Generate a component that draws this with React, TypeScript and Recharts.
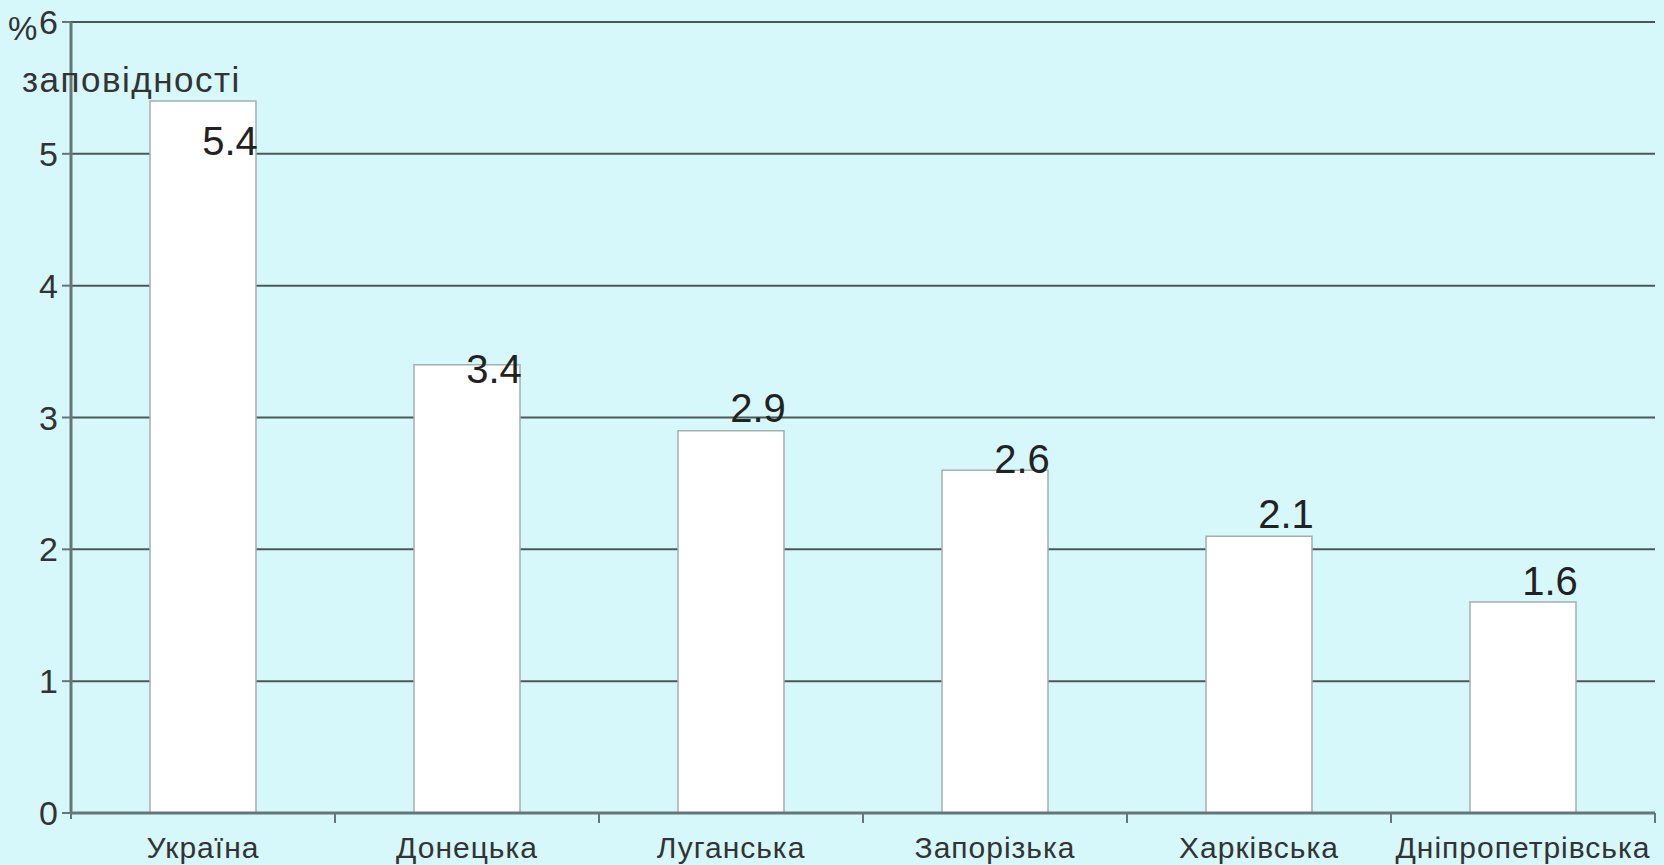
import React from 'react';
import { BarChart, Bar, XAxis, YAxis, CartesianGrid, LabelList } from 'recharts';

const categories = ['Україна', 'Донецька', 'Луганська', 'Запорізька', 'Харківська', 'Дніпропетрівська'];
const values = [5.4, 3.4, 2.9, 2.6, 2.1, 1.6];
const yTicks = [0, 1, 2, 3, 4, 5, 6];

const data = categories.map((name, i) => ({ name, value: values[i] }));

const FONT = '"Liberation Sans", Arial, sans-serif';
const BG = '#d6f8fb';
const GRID = '#4b5858';
const AXIS = '#667676';
const BAND = 264;
// per-bar vertical nudge of value labels (baseline relative to bar top)
const labelShift = [54, 18, -9, 3, -8, -7];

const XTick = (props: any) => {
  const { x, y, payload, index } = props;
  const half = BAND / 2;
  return (
    <g>
      {index === 0 && <line x1={x - half} x2={x - half} y1={y} y2={y + 6} stroke={AXIS} strokeWidth={2} />}
      <line x1={x + half} x2={x + half} y1={y} y2={y + 10} stroke={AXIS} strokeWidth={2} />
      <text x={x} y={y + 45} textAnchor="middle" fontSize={30} letterSpacing={1} fontFamily={FONT} fill="#333">
        {payload.value}
      </text>
    </g>
  );
};

const ValueLabel = (props: any) => {
  const { x, y, width, value, index } = props;
  return (
    <text x={x + width / 2 + 27} y={y + labelShift[index]} textAnchor="middle" fontSize={40} fontFamily={FONT} fill="#222">
      {value}
    </text>
  );
};

export default function App() {
  return (
    <div style={{ position: 'fixed', left: 0, top: 0, width: 1664, height: 865, background: BG }}>
      <BarChart
        width={1664}
        height={865}
        data={data}
        margin={{ top: 22, right: 9, bottom: 0, left: 11 }}
        barSize={106}
      >
        <CartesianGrid vertical={false} stroke={GRID} strokeWidth={2} />
        <XAxis
          dataKey="name"
          height={52}
          tickLine={false}
          tickSize={0}
          tickMargin={0}
          axisLine={{ stroke: AXIS, strokeWidth: 3 }}
          tick={<XTick />}
          interval={0}
        />
        <YAxis
          width={60}
          domain={[0, 6]}
          ticks={yTicks}
          interval={0}
          tickSize={9}
          tickMargin={4}
          tickLine={{ stroke: AXIS, strokeWidth: 2 }}
          axisLine={{ stroke: AXIS, strokeWidth: 3 }}
          tick={{ fontSize: 34, fontFamily: FONT, fill: '#333' }}
        />
        <Bar dataKey="value" fill="#ffffff" stroke="#a3b0b0" strokeWidth={1.5} isAnimationActive={false}>
          <LabelList dataKey="value" content={<ValueLabel />} />
        </Bar>
      </BarChart>
      <div style={{ position: 'absolute', left: 8, top: 12, fontFamily: FONT, fontSize: 33, color: '#333', lineHeight: '33px' }}>%</div>
      <div style={{ position: 'absolute', left: 22, top: 62, fontFamily: FONT, fontSize: 35, letterSpacing: 1.5, color: '#333', lineHeight: '35px' }}>заповідності</div>
    </div>
  );
}
